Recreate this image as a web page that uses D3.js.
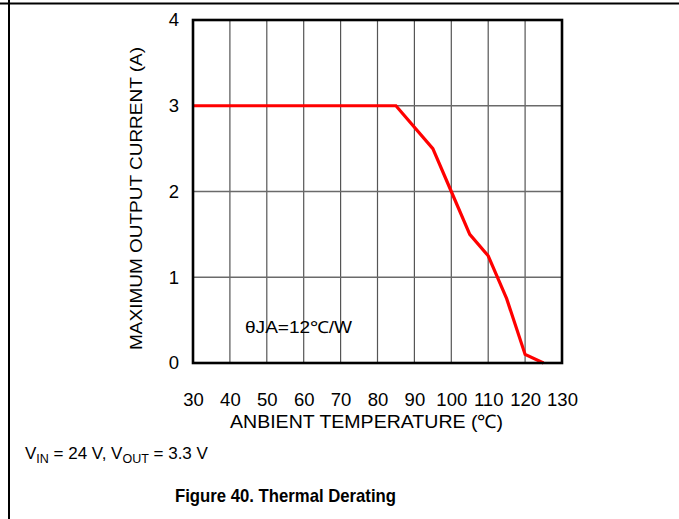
<!DOCTYPE html>
<html>
<head>
<meta charset="utf-8">
<script src="https://cdn.jsdelivr.net/npm/d3@7/dist/d3.min.js"></script>
<style>
  html, body { margin: 0; padding: 0; background: #fff; }
  text { font-family: "Liberation Sans", Arial, sans-serif; fill: #000; }
</style>
</head>
<body>
<svg id="chart" width="679" height="519"></svg>
<script>
// Data
const temperature = [30, 85, 95, 100, 105, 110, 115, 120, 125];
const maxCurrent  = [3, 3, 2.5, 2, 1.5, 1.25, 0.75, 0.1, 0];
const xTicks = [30, 40, 50, 60, 70, 80, 90, 100, 110, 120, 130];
const yTicks = [0, 1, 2, 3, 4];
const xTitle = "ANBIENT TEMPERATURE (\u2103)";
const yTitle = "MAXIMUM OUTPUT CURRENT (A)";
const note = "\u03B8JA=12\u2103/W";
const caption = "Figure 40. Thermal Derating";

const svg = d3.select("#chart");
const L = 193, R = 562, T = 20, B = 363;
const FONT = '"Liberation Sans", Arial, sans-serif';

const x = d3.scaleLinear().domain([30, 130]).range([L, R]);
const y = d3.scaleLinear().domain([0, 4]).range([B, T]);

// Page frame lines
svg.append("line").attr("x1", 0).attr("x2", 679).attr("y1", 3.5).attr("y2", 3.5)
  .attr("stroke", "#000").attr("stroke-width", 2);
svg.append("line").attr("x1", 9).attr("x2", 9).attr("y1", 0).attr("y2", 519)
  .attr("stroke", "#000").attr("stroke-width", 2);

// Grid
const grid = svg.append("g");
grid.selectAll("line.v").data(xTicks.slice(1, -1)).enter().append("line")
  .attr("x1", d => x(d)).attr("x2", d => x(d)).attr("y1", T).attr("y2", B)
  .attr("stroke", "#555").attr("stroke-width", 1.2);
grid.selectAll("line.h").data(yTicks.slice(1, -1)).enter().append("line")
  .attr("x1", L).attr("x2", R).attr("y1", d => y(d)).attr("y2", d => y(d))
  .attr("stroke", "#6a6a6a").attr("stroke-width", 1.4);

// Axes (labels only) via d3 axis
const xAxis = svg.append("g").attr("transform", `translate(0,${B})`)
  .call(d3.axisBottom(x).tickValues(xTicks).tickFormat(d3.format("d")).tickSize(0));
xAxis.attr("font-size", 18).attr("font-family", FONT);
xAxis.select(".domain").remove();
xAxis.selectAll("text").attr("y", 43).attr("dy", 0)
  .attr("font-size", 18.5).attr("fill", "#000");

const yAxis = svg.append("g").attr("transform", `translate(${L},0)`)
  .call(d3.axisLeft(y).tickValues(yTicks).tickFormat(d3.format("d")).tickSize(0).tickPadding(14));
yAxis.attr("font-size", 18).attr("font-family", FONT);
yAxis.select(".domain").remove();
yAxis.selectAll("text").attr("font-size", 18.5).attr("fill", "#000");

// Data line
const line = d3.line().x((d, i) => x(temperature[i])).y(d => y(d));
svg.append("path").datum(maxCurrent)
  .attr("d", line).attr("fill", "none")
  .attr("stroke", "#ff0000").attr("stroke-width", 3.2)
  .attr("stroke-linejoin", "miter");

// Plot border
svg.append("rect").attr("x", L).attr("y", T).attr("width", R - L).attr("height", B - T)
  .attr("fill", "none").attr("stroke", "#000").attr("stroke-width", 2.6);

// Axis titles
svg.append("text").attr("x", 230).attr("y", 428)
  .attr("font-size", 18.5).attr("textLength", 273).attr("lengthAdjust", "spacingAndGlyphs")
  .text(xTitle);
svg.append("text")
  .attr("transform", "translate(142,198.5) rotate(-90)")
  .attr("text-anchor", "middle").attr("font-size", 16.5)
  .attr("textLength", 303).attr("lengthAdjust", "spacingAndGlyphs")
  .text(yTitle);

// Annotation
svg.append("text").attr("x", 245).attr("y", 333).attr("font-size", 16.5)
  .attr("textLength", 107).attr("lengthAdjust", "spacingAndGlyphs")
  .text(note);

// Conditions line with subscripts
const cond = svg.append("text").attr("x", 25).attr("y", 459).attr("font-size", 17);
cond.append("tspan").text("V");
cond.append("tspan").attr("font-size", 12.5).attr("dy", 4).text("IN");
cond.append("tspan").attr("dy", -4).text(" = 24 V, V");
cond.append("tspan").attr("font-size", 12.5).attr("dy", 4).text("OUT");
cond.append("tspan").attr("dy", -4).text(" = 3.3 V");

// Caption
svg.append("text").attr("x", 175).attr("y", 502).attr("font-size", 19)
  .attr("font-weight", "bold").attr("textLength", 221).attr("lengthAdjust", "spacingAndGlyphs")
  .text(caption);
</script>
</body>
</html>
